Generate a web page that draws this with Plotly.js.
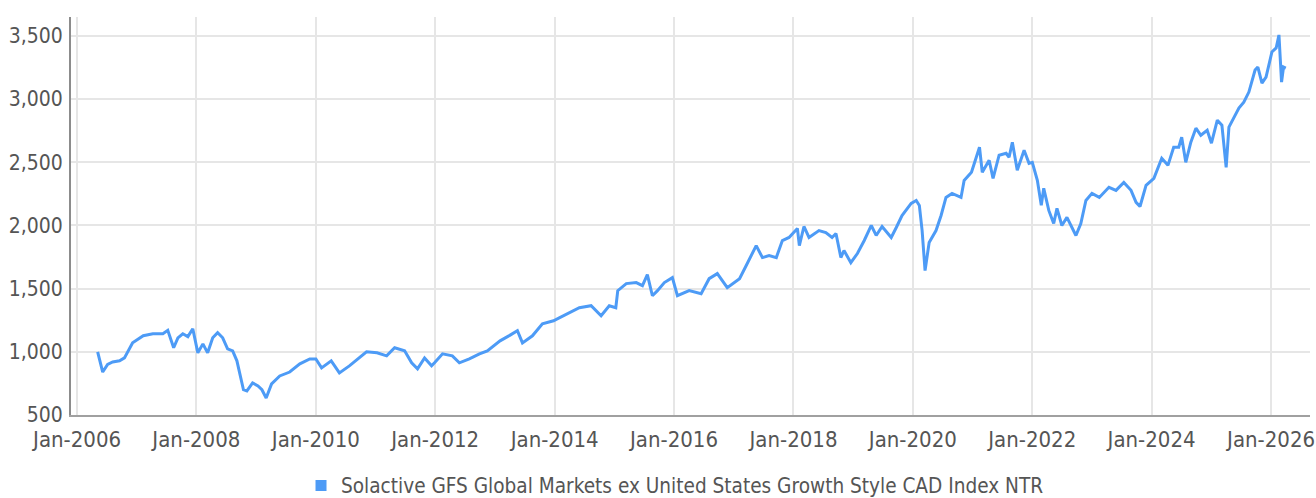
<!DOCTYPE html>
<html>
<head>
<meta charset="utf-8">
<script src="https://cdn.plot.ly/plotly-3.0.1.min.js"></script>
<style>html,body{margin:0;padding:0;background:#fff;}#chart{width:1316px;height:498px;}</style>
</head>
<body>
<div id="chart"></div>
<script>
const seriesName = "Solactive GFS Global Markets ex United States Growth Style CAD Index NTR";
const dates = [
"2006-05-07","2006-06-07","2006-07-07","2006-08-07","2006-09-18","2006-10-18","2006-12-07",
"2007-02-10","2007-04-10","2007-06-10","2007-07-10","2007-08-15","2007-09-10","2007-10-10","2007-11-10","2007-12-10",
"2008-01-10","2008-02-10","2008-03-10","2008-04-10","2008-05-10","2008-06-10","2008-07-10","2008-08-10","2008-09-05","2008-10-05","2008-10-15","2008-11-05","2008-12-10",
"2009-01-12","2009-02-05","2009-03-03","2009-04-05","2009-05-25","2009-07-25","2009-09-25","2009-11-25",
"2010-01-01","2010-02-05","2010-04-05","2010-05-25","2010-07-25","2010-09-12","2010-11-07",
"2011-01-10","2011-03-10","2011-04-28","2011-06-28","2011-08-10","2011-09-15","2011-10-28","2011-12-10","2011-12-28",
"2012-02-15","2012-04-15","2012-05-28","2012-07-28","2012-09-28","2012-11-15",
"2013-02-01","2013-04-01","2013-05-18","2013-06-18","2013-08-18","2013-10-18","2013-12-25",
"2014-02-01","2014-04-01","2014-06-01","2014-08-12","2014-10-12","2014-12-01",
"2015-01-10","2015-01-22","2015-03-15","2015-05-15","2015-06-22","2015-07-22","2015-08-22","2015-09-22","2015-11-03","2015-12-22",
"2016-01-22","2016-04-03","2016-06-15","2016-08-03","2016-09-22","2016-11-22",
"2017-02-05","2017-03-18","2017-05-18","2017-06-25","2017-08-05","2017-09-18","2017-10-25","2017-12-05",
"2018-01-25","2018-02-06","2018-03-06","2018-04-06","2018-06-06","2018-07-18","2018-08-25","2018-09-18","2018-10-18","2018-11-06","2018-12-18",
"2019-01-27","2019-03-10","2019-04-22","2019-05-22","2019-06-27","2019-08-22","2019-09-22","2019-10-27","2019-12-22",
"2020-01-22","2020-02-10","2020-02-27","2020-03-16","2020-04-10","2020-05-22","2020-06-22","2020-07-22","2020-08-28","2020-10-22","2020-11-10","2020-12-25",
"2021-01-25","2021-02-12","2021-03-01","2021-04-12","2021-05-06","2021-06-12","2021-07-25","2021-08-12","2021-09-01","2021-10-01","2021-11-12","2021-12-12",
"2022-01-01","2022-02-01","2022-02-25","2022-03-12","2022-04-12","2022-05-12","2022-06-01","2022-07-01","2022-08-01","2022-09-25","2022-10-25","2022-11-25",
"2023-01-01","2023-02-15","2023-04-15","2023-05-28","2023-07-15","2023-08-28","2023-09-28","2023-10-22","2023-11-28",
"2024-01-15","2024-03-03","2024-04-10","2024-05-15","2024-06-15","2024-07-03","2024-07-28","2024-08-28","2024-09-28","2024-10-28","2024-12-06",
"2025-01-01","2025-02-06","2025-03-06","2025-04-01","2025-04-18","2025-05-18","2025-06-18","2025-07-18","2025-08-18","2025-09-25","2025-10-12","2025-11-06","2025-12-01",
"2026-01-06","2026-02-01","2026-02-18","2026-03-01","2026-03-06","2026-03-18","2026-04-01"
];
const values = [
1000,840,900,920,929,952,1071,
1127,1143,1143,1170,1032,1110,1143,1120,1183,
992,1063,992,1111,1151,1111,1024,1008,929,754,700,690,754,
730,700,635,746,809,840,905,944,
944,873,929,833,889,944,1000,
992,968,1032,1008,913,865,952,889,913,
984,968,913,944,984,1008,
1087,1130,1167,1071,1127,1222,1246,
1270,1310,1349,1365,1286,1365,
1349,1484,1540,1548,1524,1611,1444,1484,1548,1587,
1444,1484,1460,1579,1619,1508,
1579,1683,1841,1746,1762,1746,1881,1905,
1976,1841,1992,1905,1960,1944,1905,1937,1746,1802,1706,
1778,1881,2000,1921,1992,1905,1984,2079,2175,
2198,2159,1960,1643,1865,1960,2079,2222,2254,2222,2357,2421,
2556,2619,2421,2516,2373,2556,2571,2540,2659,2437,2595,2492,
2500,2357,2159,2294,2119,2016,2135,2000,2064,1921,2016,2198,
2254,2222,2302,2278,2341,2278,2183,2150,2318,
2373,2532,2476,2619,2619,2698,2500,2659,2770,2714,2754,
2651,2833,2794,2460,2778,2857,2929,2976,3056,3230,3254,3127,3175,
3373,3405,3508,3286,3135,3254,3246
];
const yTicks = [500,1000,1500,2000,2500,3000,3500];

const lineColor = "#4d9bf6";
const fontFam = "DejaVu Sans Condensed, DejaVu Sans, sans-serif";

const traces = [
  {x: dates, y: values, type: "scatter", mode: "lines", name: seriesName, showlegend: false,
   line: {color: lineColor, width: 3}, hoverinfo: "x+y"},
  {x: [null], y: [null], type: "scatter", mode: "markers", name: seriesName, showlegend: true,
   marker: {symbol: "square", size: 11, color: lineColor}}
];

const layout = {
  width: 1316, height: 498,
  margin: {l: 71, r: 6, t: 17, b: 83, autoexpand: false},
  paper_bgcolor: "#fff", plot_bgcolor: "#fff",
  font: {family: fontFam, size: 21, color: "#555"},
  xaxis: {
    type: "date", range: ["2005-11-25", "2026-08-27"],
    tick0: "2006-01-01", dtick: "M24", tickformat: "%b-%Y",
    showgrid: true, gridcolor: "#e6e6e6", gridwidth: 2,
    showline: true, linecolor: "#a0a0a0", linewidth: 2,
    ticks: "", ticklen: 0, zeroline: false, ticklabelstandoff: 4,
    ticklabeloverflow: "allow",
    tickfont: {family: fontFam, size: 22, color: "#555"}
  },
  yaxis: {
    range: [500, 3650], tickvals: yTicks, tickformat: ",",
    showgrid: true, gridcolor: "#e6e6e6", gridwidth: 2,
    showline: true, linecolor: "#8c8c8c", linewidth: 2,
    ticks: "", zeroline: false, ticklabelstandoff: 2,
    tickfont: {family: fontFam, size: 21, color: "#555"}
  },
  showlegend: true,
  legend: {orientation: "h", x: 0.4875, xanchor: "center", yref: "container", y: 0.025, yanchor: "middle",
           font: {family: fontFam, size: 20.6, color: "#555"}, itemwidth: 30, tracegroupgap: 0}
};

Plotly.newPlot("chart", traces, layout, {displayModeBar: false, staticPlot: true});
</script>
</body>
</html>
